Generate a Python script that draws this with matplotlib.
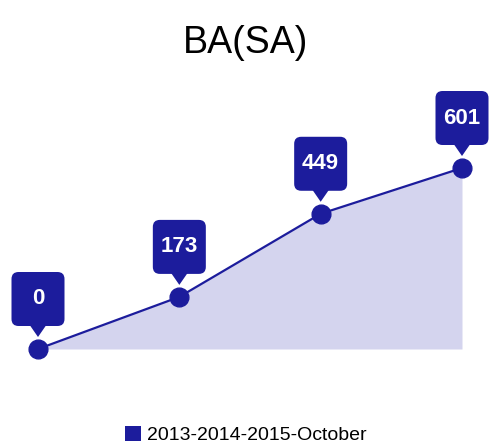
import matplotlib
matplotlib.use("Agg")
import matplotlib.pyplot as plt
from matplotlib.patches import FancyBboxPatch, Polygon, Patch
from matplotlib.transforms import Affine2D

plt.rcParams['font.family'] = ['Liberation Sans', 'DejaVu Sans']

# Data
categories = ["2013", "2014", "2015", "October"]
values = [0, 173, 449, 601]
series_name = "2013-2014-2015-October"
title = "BA(SA)"

dark = "#1c1c9c"
fill = "#d4d4ee"

W, H = 491, 446
fig = plt.figure(figsize=(W / 100, H / 100), dpi=100)
ax = fig.add_axes([38 / W, (H - 349) / H, (462 - 38) / W, (349 - 168) / H])
x = list(range(len(values)))
ax.fill_between(x, values, 0, color=fill, lw=0, zorder=1)
ax.plot(x, values, color=dark, lw=1.6, marker="o", markersize=13.5,
        clip_on=False, zorder=3)
ax.set_xlim(0, len(values) - 1)
ax.set_ylim(0, max(values))
ax.axis("off")

fig.suptitle(title, x=0.5, y=1 - 43 / H, va="center", fontsize=27)

# Callout labels
bw, b0, b1, tip, base = 53, 23, 77, 12, 9
for xi, v in zip(x, values):
    px, py = ax.transData.transform((xi, v))
    tr = Affine2D().translate(px, py)
    box = FancyBboxPatch((-bw / 2, b0), bw, b1 - b0,
                         boxstyle="round,pad=0,rounding_size=7",
                         fc=dark, ec="none", transform=tr, zorder=5)
    tri = Polygon([(-base, b0 + 2), (base, b0 + 2), (0, tip)],
                  closed=True, fc=dark, ec="none", transform=tr, zorder=5)
    fig.add_artist(box)
    fig.add_artist(tri)
    fig.text(px / W, (py + (b0 + b1) / 2) / H, str(v), color="white",
             fontsize=16, fontweight="bold", ha="center", va="center",
             zorder=6)

handle = Patch(facecolor=dark, edgecolor="none")
fig.legend([handle], [series_name], loc="center",
           bbox_to_anchor=(0.5, 1 - 435 / H), frameon=False, fontsize=14,
           handlelength=0.85, handleheight=0.85, handletextpad=0.3)

fig.savefig("out.png", dpi=100)
